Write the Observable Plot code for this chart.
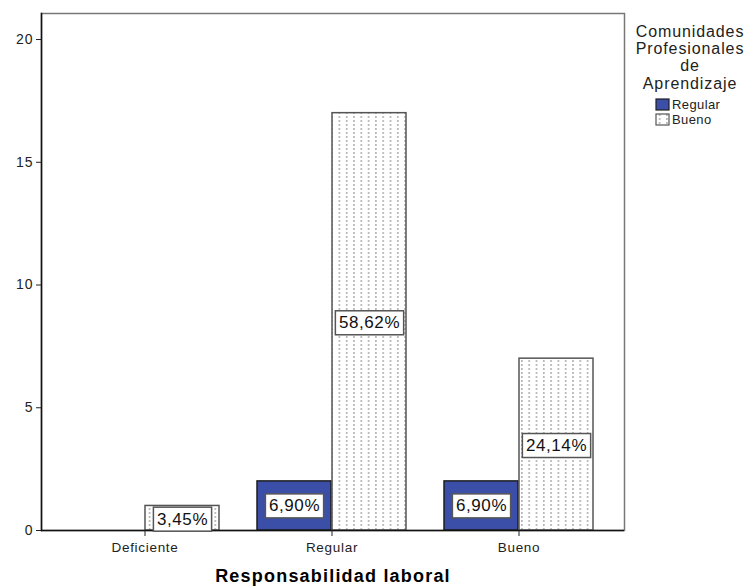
<!DOCTYPE html>
<html>
<head>
<meta charset="utf-8">
<script src="https://cdn.jsdelivr.net/npm/d3@7"></script>
<script src="https://cdn.jsdelivr.net/npm/@observablehq/plot@0.6"></script>
<style>
  html, body { margin: 0; padding: 0; background: #fff; }
  #chart svg { font-family: "Liberation Sans", Arial, sans-serif; }
  g[aria-label="text"] text { letter-spacing: 0.6px; }
  g[aria-label="x-axis tick label"] text { letter-spacing: 0.7px; }
  g[aria-label="y-axis tick label"] text { letter-spacing: 1px; }
</style>
</head>
<body>
<div id="chart"></div>
<script>
const categories = ["Deficiente", "Regular", "Bueno"];
const groups = ["Regular", "Bueno"];
const regularCounts = [0, 2, 2];
const buenoCounts = [1, 17, 7];
const regularLabels = [null, "6,90%", "6,90%"];
const buenoLabels = ["3,45%", "58,62%", "24,14%"];
const yTicks = [0, 5, 10, 15, 20];
const legendTitle = ["Comunidades", "Profesionales", "de", "Aprendizaje"];
const xTitle = "Responsabilidad laboral";

const regRows = categories.map((c, i) => ({cat: c, group: groups[0], value: regularCounts[i], label: regularLabels[i]}));
const buenoRows = categories.map((c, i) => ({cat: c, group: groups[1], value: buenoCounts[i], label: buenoLabels[i]}));

const W = 748, H = 587;
const mL = 41, mR = 124, mT = 13, mB = 57;
const blue = "#3b4fa8";

const plot = Plot.plot({
  width: W, height: H,
  marginLeft: mL, marginRight: mR, marginTop: mT, marginBottom: mB,
  style: {color: "#222", fontFamily: "Liberation Sans, Arial, sans-serif"},
  x: {domain: categories, paddingInner: 0.202, paddingOuter: 0.152, align: 0.49, axis: null},
  y: {domain: [0, 21.06], axis: null},
  marks: [
    Plot.frame({stroke: "#777", strokeWidth: 1.5}),
    Plot.barY(regRows.filter(d => d.value > 0), {x: "cat", y: "value", fill: blue, stroke: "#1e1e1e", strokeWidth: 1.5, insetRight: 75}),
    Plot.barY(buenoRows, {x: "cat", y: "value", fill: "url(#dots)", stroke: "#555", strokeWidth: 1.5, insetLeft: 75}),
    Plot.frame({anchor: "left", stroke: "#111", strokeWidth: 1.5}),
    Plot.ruleY([0], {stroke: "#111", strokeWidth: 1.5}),
    Plot.axisY({ticks: yTicks, tickSize: 5, tickPadding: 3, fontSize: 14, label: null}),
    Plot.axisX({tickSize: 6, tickPadding: 6, fontSize: 13.5, label: null}),
    Plot.text(regRows.filter(d => d.label), {x: "cat", y: d => d.value / 2, text: "label", dx: -37.5, fontSize: 17, fill: "#111"}),
    Plot.text(buenoRows, {x: "cat", y: d => d.value / 2, text: "label", dx: 37.5, dy: 1, fontSize: 17, fill: "#111"}),
    Plot.text([xTitle], {frameAnchor: "bottom", dy: 51, text: d => d, fontSize: 18, fontWeight: "bold", fill: "#000"})
  ]
});

document.getElementById("chart").appendChild(plot);
const svg = d3.select(plot);

// dotted pattern
const defs = svg.insert("defs", ":first-child");
const pat = defs.append("pattern").attr("id", "dots").attr("patternUnits", "userSpaceOnUse")
  .attr("width", 7.3).attr("height", 4);
pat.append("rect").attr("width", 7.3).attr("height", 4).attr("fill", "#fff");
pat.append("rect").attr("x", 3).attr("y", 0).attr("width", 1.2).attr("height", 2).attr("fill", "#9a9a9a");

// title letter spacing
svg.selectAll('g[aria-label="text"] text').filter(function() { return this.textContent === xTitle; })
  .style("letter-spacing", "1.2px");

// label boxes
svg.selectAll('g[aria-label="text"] text').filter(function() { return this.textContent !== xTitle; })
  .each(function() {
    const b = this.getBBox();
    d3.select(this.parentNode).insert("rect", () => this)
      .attr("transform", this.getAttribute("transform"))
      .attr("x", b.x - 3.5).attr("y", b.y - 2.5)
      .attr("width", b.width + 7).attr("height", b.height + 5)
      .attr("fill", "#fff").attr("stroke", "#555").attr("stroke-width", 1.5);
  });

// legend
const lg = svg.append("g").attr("font-family", "Liberation Sans, Arial, sans-serif").attr("fill", "#222");
lg.selectAll("text.t").data(legendTitle).join("text").attr("class", "t")
  .attr("x", 690).attr("y", (d, i) => 37 + i * 17.2)
  .attr("text-anchor", "middle").attr("font-size", 16).style("letter-spacing", "0.9px").text(d => d);
const items = [{name: groups[0], fill: blue, stroke: "#1e1e1e"}, {name: groups[1], fill: "url(#dots)", stroke: "#555"}];
const it = lg.selectAll("g.it").data(items).join("g").attr("class", "it")
  .attr("transform", (d, i) => `translate(656,${99 + i * 15})`);
it.append("rect").attr("width", 13).attr("height", 11).attr("fill", d => d.fill).attr("stroke", d => d.stroke).attr("stroke-width", 1.2);
it.append("text").attr("x", 16).attr("y", 10).attr("text-anchor", "start").attr("font-size", 13).style("letter-spacing", "0.4px").text(d => d.name);
</script>
</body>
</html>
